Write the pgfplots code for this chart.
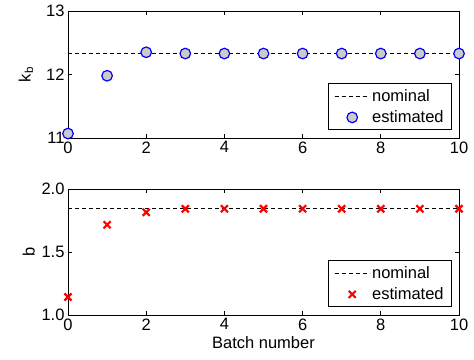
\documentclass[border=0pt]{standalone}
\usepackage{pgfplots}
\pgfplotsset{compat=1.18}
\usepackage{fontspec}
\setmainfont{Liberation Sans}
\definecolor{markfill}{RGB}{205,203,199}
\pgfplotsset{
  lineleg/.style={legend image code/.code={\draw[##1] (0bp,0bp) -- (35bp,0bp);}},
  markleg/.style={legend image code/.code={\draw[mark repeat=2,mark phase=2,##1] plot coordinates {(0bp,0bp) (17.5bp,0bp) (35bp,0bp)};}},
}
\pgfplotsset{mystyle/.style={
  width=391bp, scale only axis,
  xmin=0, xmax=10, xtick={0,2,...,10},
  tick align=inside, major tick length=4bp,
  axis line style={line width=0.7pt},
  every tick/.style={line width=0.7pt, black},
  ticklabel style={font=\fontsize{16.5bp}{18bp}\selectfont},
  label style={font=\fontsize{16.5bp}{18bp}\selectfont},
  /pgf/number format/assume math mode=true,
  legend cell align=left,
  legend style={at={(1,0)}, anchor=south east, xshift=-7bp, yshift=8bp,
    font=\fontsize{16.5bp}{18bp}\selectfont, draw=black, line width=0.7pt,
    inner xsep=6bp, inner ysep=3.5bp, row sep=4bp},
  legend image post style={line width=0.8pt},
}}
\begin{document}
\begin{tikzpicture}
\path[use as bounding box] (0,0) rectangle (474bp,360bp);
\begin{axis}[mystyle, at={(68bp,222bp)}, anchor=south west, height=127bp,
  ymin=11, ymax=13, ytick={11,12,13},
  ylabel={k\textsubscript{b}}, ylabel style={yshift=6bp}]
\addplot[black, line width=0.8pt, dash pattern=on 4bp off 3bp, lineleg] coordinates {(0,12.33) (10,12.33)};
\addlegendentry{nominal}
\addplot[only marks, mark=*, mark size=5.3bp, mark options={draw=blue, fill=markfill, line width=1.2pt, solid}, markleg] coordinates {
(0,11.07) (1,11.98) (2,12.35) (3,12.33) (4,12.33) (5,12.33) (6,12.33) (7,12.33) (8,12.33) (9,12.33) (10,12.33)};
\addlegendentry{estimated}
\end{axis}
\begin{axis}[mystyle, at={(68bp,45bp)}, anchor=south west, height=126bp,
  ymin=1, ymax=2, ytick={1,1.5,2},
  yticklabel style={/pgf/number format/fixed, /pgf/number format/fixed zerofill, /pgf/number format/precision=1},
  ylabel={b}, ylabel style={yshift=0bp},
  xlabel={Batch number}, xlabel style={yshift=0bp}]
\addplot[black, line width=0.8pt, dash pattern=on 4bp off 3bp, lineleg] coordinates {(0,1.843) (10,1.843)};
\addlegendentry{nominal}
\addplot[only marks, mark=x, mark size=5bp, mark options={draw=red, line width=2.2pt, solid}, markleg] coordinates {
(0,1.143) (1,1.716) (2,1.815) (3,1.843) (4,1.843) (5,1.843) (6,1.843) (7,1.843) (8,1.843) (9,1.843) (10,1.843)};
\addlegendentry{estimated}
\end{axis}
\end{tikzpicture}
\end{document}
